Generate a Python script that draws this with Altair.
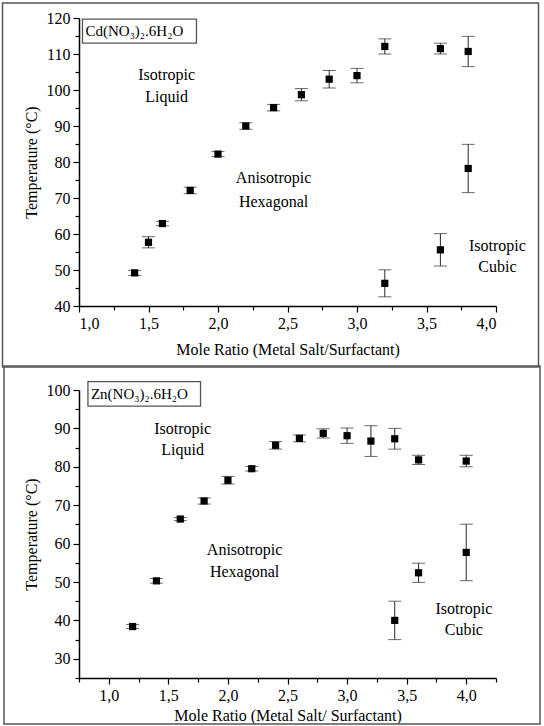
import altair as alt
import pandas as pd

# Cd(NO3)2.6H2O system: mole ratio, transition temperature (°C), error
cd_ratio = [1.4, 1.5, 1.6, 1.8, 2.0, 2.2, 2.4, 2.6, 2.8, 3.0, 3.2, 3.6, 3.8, 3.8, 3.2, 3.6]
cd_temp = [49.2, 57.7, 62.9, 72.1, 82.2, 90.0, 95.1, 98.7, 103.0, 104.0, 112.1, 111.5, 110.7, 78.2, 46.3, 55.6]
cd_err = [0.7, 1.55, 0.6, 0.9, 0.7, 0.9, 0.9, 1.7, 2.45, 2.0, 2.1, 1.5, 4.2, 6.7, 3.75, 4.5]

# Zn(NO3)2.6H2O system
zn_ratio = [1.2, 1.4, 1.6, 1.8, 2.0, 2.2, 2.4, 2.6, 2.8, 3.0, 3.2, 3.4, 3.6, 4.0, 3.4, 3.6, 4.0]
zn_temp = [38.4, 50.3, 66.4, 71.1, 76.5, 79.5, 85.6, 87.4, 88.7, 88.1, 86.7, 87.3, 81.8, 81.5, 40.0, 52.4, 57.7]
zn_err = [0.5, 0.6, 0.4, 0.8, 1.0, 0.6, 1.0, 0.9, 1.2, 2.0, 4.0, 2.7, 1.2, 1.5, 5.0, 2.5, 7.35]

# Phase region labels, one entry per text line
cd_phase_text = ["Isotropic", "Liquid", "Anisotropic", "Hexagonal", "Isotropic", "Cubic"]
cd_phase_x = [1.63, 1.63, 2.40, 2.40, 4.01, 4.01]
cd_phase_y = [104.1, 98.0, 75.6, 68.9, 56.7, 50.7]
zn_phase_text = ["Isotropic", "Liquid", "Anisotropic", "Hexagonal", "Isotropic", "Cubic"]
zn_phase_x = [1.62, 1.62, 2.14, 2.14, 3.98, 3.98]
zn_phase_y = [89.9, 84.3, 58.3, 52.5, 42.9, 37.4]

cd_name = "Cd(NO₃)₂.6H₂O"
zn_name = "Zn(NO₃)₂.6H₂O"

FONT = "Liberation Serif, Times New Roman, Times, DejaVu Serif, serif"
INK = "#000000"
BAR = "#2a2a2a"
FRAME = "#555555"


def panel(ratio, temp, err, xdom, ydom, xstep_vals, ystep_vals, ylabel_every,
          phase_text, phase_x, phase_y, name, name_box, frame, xtitle, title_pad):
    df = pd.DataFrame({
        "ratio": ratio,
        "temp": temp,
        "lo": [t - e for t, e in zip(temp, err)],
        "hi": [t + e for t, e in zip(temp, err)],
    })

    xaxis = alt.Axis(
        values=xstep_vals,
        labelExpr="datum.value % 0.5 == 0 ? replace(format(datum.value, '.1f'), '.', ',') : ''",
        tickSize={"condition": {"test": "datum.value % 0.5 == 0", "value": 6}, "value": 4},
        labelPadding=3,
        titlePadding=title_pad,
    )
    yaxis = alt.Axis(
        values=ystep_vals,
        labelExpr=f"datum.value % {ylabel_every} == 0 ? datum.value : ''",
        tickSize={"condition": {"test": f"datum.value % {ylabel_every} == 0", "value": 6}, "value": 4},
        labelPadding=3,
        titlePadding=7,
    )
    xs = alt.Scale(domain=xdom, nice=False, zero=False)
    ys = alt.Scale(domain=ydom, nice=False, zero=False)

    def ex(field):
        return alt.X(f"{field}:Q", scale=xs, axis=xaxis, title=xtitle)

    def ey(field):
        return alt.Y(f"{field}:Q", scale=ys, axis=yaxis, title="Temperature (°C)")

    base = alt.Chart(df)
    bars = base.mark_rule(color=BAR, strokeWidth=1).encode(x=ex("ratio"), y=ey("lo"), y2="hi")
    cap_lo = base.mark_tick(orient="horizontal", size=13, thickness=1, color=BAR).encode(
        x=ex("ratio"), y=ey("lo"))
    cap_hi = base.mark_tick(orient="horizontal", size=13, thickness=1, color=BAR).encode(
        x=ex("ratio"), y=ey("hi"))
    pts = base.mark_square(size=52, color=INK, opacity=1).encode(x=ex("ratio"), y=ey("temp"))

    lab_df = pd.DataFrame({"x": phase_x, "y": phase_y, "text": phase_text})
    labels = alt.Chart(lab_df).mark_text(
        font=FONT, fontSize=16, color=INK, align="center", baseline="middle"
    ).encode(x=ex("x"), y=ey("y"), text="text")

    bx0, bx1, by0, by1 = name_box
    box_df = pd.DataFrame({"x": [bx0], "x2": [bx1], "y": [by0], "y2": [by1], "name": [name]})
    box = alt.Chart(box_df).mark_rect(
        fill="white", fillOpacity=0, stroke=FRAME, strokeWidth=1.3
    ).encode(x=ex("x"), x2="x2", y=ey("y"), y2="y2")
    box_txt = alt.Chart(box_df).transform_calculate(
        mid="(datum.y + datum.y2) / 2"
    ).mark_text(
        font=FONT, fontSize=15, color=INK, align="left", baseline="middle", dx=3
    ).encode(x=ex("x"), y=ey("mid"), text="name")

    fx0, fx1, fy0, fy1 = frame
    border = alt.Chart(pd.DataFrame({"k": [0]})).mark_rect(
        fillOpacity=0, stroke=FRAME, strokeWidth=1.5
    ).encode(x=alt.value(fx0), x2=alt.value(fx1), y=alt.value(fy0), y2=alt.value(fy1))

    return alt.layer(border, bars, cap_lo, cap_hi, pts, labels, box, box_txt).properties(
        width=417, height=288)


top = panel(
    cd_ratio, cd_temp, cd_err,
    [1.0, 4.0], [40, 120],
    [1.0 + 0.25 * i for i in range(13)], list(range(40, 121, 5)), 10,
    cd_phase_text, cd_phase_x, cd_phase_y,
    cd_name, (1.025, 1.845, 119.7, 113.0),
    (-76.5, 459.5, -15, 349),
    "Mole Ratio (Metal Salt/Surfactant)", 10,
)

bottom = panel(
    zn_ratio, zn_temp, zn_err,
    [0.75, 4.25], [25, 100],
    [0.75 + 0.25 * i for i in range(15)], list(range(25, 101, 5)), 10,
    zn_phase_text, zn_phase_x, zn_phase_y,
    zn_name, (0.825, 1.77, 102.2, 95.8),
    (-75, 461, -24, 334),
    "Mole Ratio (Metal Salt/ Surfactant)", 4,
)

chart = alt.vconcat(top, bottom, spacing=-3).properties(
    padding={"left": 1, "top": 2, "right": 0, "bottom": 0},
    background="white",
).configure_view(stroke=None).configure_axis(
    grid=False,
    domainColor=INK,
    domainWidth=1.5,
    tickColor=INK,
    tickWidth=1.2,
    labelFont=FONT,
    labelFontSize=16,
    labelColor=INK,
    titleFont=FONT,
    titleFontSize=16,
    titleFontWeight="normal",
    titleColor=INK,
)

chart.save("out.html", embed_options={"renderer": "svg", "actions": False})
